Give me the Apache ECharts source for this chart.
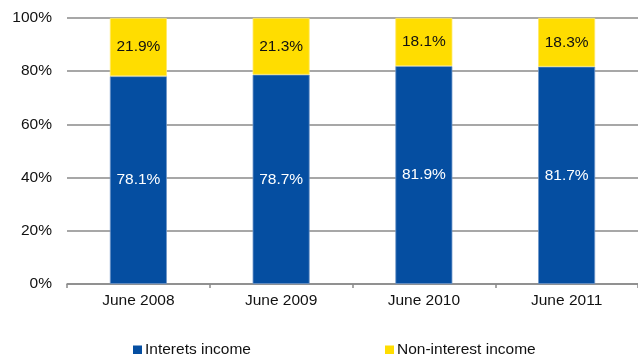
<!DOCTYPE html>
<html>
<head>
<meta charset="utf-8">
<script src="https://cdn.jsdelivr.net/npm/echarts@6/dist/echarts.min.js"></script>
<style>
  html, body { margin: 0; padding: 0; background: #fff; }
  #chart { width: 638px; height: 354px; }
</style>
</head>
<body>
<div id="chart"></div>
<script>
// Income split by period (percent of total)
const categories = ['June 2008', 'June 2009', 'June 2010', 'June 2011'];
const interestIncome = [78.1, 78.7, 81.9, 81.7];
const nonInterestIncome = [21.9, 21.3, 18.1, 18.3];
const seriesNames = ['Interets income', 'Non-interest income'];

const FONT = 'Liberation Sans, Arial, sans-serif';
const FS = 15.5;

function legendFor(name, left) {
  return {
    data: [name],
    left: left, top: 337,
    itemWidth: 9, itemHeight: 9, itemGap: 0,
    icon: 'rect',
    itemStyle: { borderWidth: 0 },
    textStyle: { fontFamily: FONT, fontSize: FS, color: '#111', padding: [0, 0, 0, -2] }
  };
}

const chart = echarts.init(document.getElementById('chart'));
chart.setOption({
  animation: false,
  textStyle: { fontFamily: FONT },
  grid: { left: 67, top: 18, width: 576, height: 266, containLabel: false },
  legend: [legendFor(seriesNames[0], 128), legendFor(seriesNames[1], 380)],
  xAxis: {
    type: 'category',
    data: categories,
    axisLine: { lineStyle: { color: '#8a8a8a', width: 1.5 } },
    axisTick: { show: true, length: 4, lineStyle: { color: '#8a8a8a', width: 1.5 } },
    axisLabel: { color: '#111', fontSize: FS, fontFamily: FONT, margin: 9 }
  },
  yAxis: {
    type: 'value',
    min: 0, max: 100, interval: 20,
    axisLine: { show: false },
    axisTick: { show: false },
    splitLine: { lineStyle: { color: '#8a8a8a', width: 1.5 } },
    axisLabel: { color: '#111', fontSize: FS, fontFamily: FONT, margin: 15, formatter: '{value}%' }
  },
  series: [
    {
      name: seriesNames[0],
      type: 'bar',
      stack: 'total',
      barWidth: 57,
      data: interestIncome,
      itemStyle: { color: '#054EA1', borderColor: '#6f95c8', borderWidth: 0.8 },
      label: {
        show: true, position: 'inside', color: '#fff',
        fontSize: FS, fontFamily: FONT,
        formatter: p => p.value.toFixed(1) + '%'
      }
    },
    {
      name: seriesNames[1],
      type: 'bar',
      stack: 'total',
      barWidth: 57,
      data: nonInterestIncome,
      itemStyle: { color: '#FFDD00', borderColor: '#ffe866', borderWidth: 0.8 },
      label: {
        show: true, position: 'inside', color: '#111',
        fontSize: FS, fontFamily: FONT,
        formatter: p => p.value.toFixed(1) + '%'
      }
    }
  ]
});
</script>
</body>
</html>
